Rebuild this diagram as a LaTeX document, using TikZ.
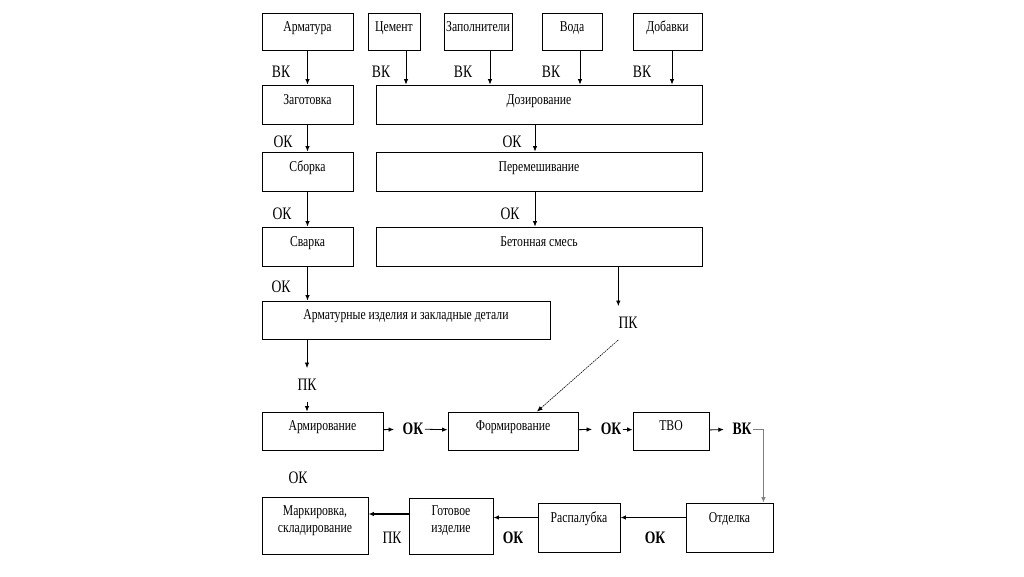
\documentclass[tikz,border=0pt]{standalone}
\usepackage{fontspec}
\setmainfont{Liberation Serif}[FakeStretch=0.78]
\usetikzlibrary{arrows.meta,positioning}

\begin{document}
\begin{tikzpicture}[x=1pt, y=-1pt,
    box/.style = {draw, rectangle, line width=0.9pt, inner sep=0pt,
                  font=\fontsize{15}{17}\selectfont, text height=10pt, text depth=10.6pt},
    low/.style = {text depth=20.6pt},
    two/.style = {align=center, text height=17pt, text depth=3.6pt},
    lbl/.style = {inner sep=0pt, font=\fontsize{17.5}{20}\selectfont},
    blbl/.style = {lbl, inner xsep=1.5pt, font=\fontsize{17.5}{20}\selectfont\bfseries},
    pk/.style = {lbl, inner ysep=11pt},
    arr/.style = {-{Latex[length=5.5pt,width=4.5pt]}, line width=0.8pt},
    tolbl/.style = {arr, shorten >=7pt},
    barr/.style = {arr, line width=1.4pt}]
    \useasboundingbox (0,0) rectangle (1024,576);

    % raw materials
    \node[box, minimum width=91pt, minimum height=37pt] (armat) at (307.5,31.5) {Арматура};
    \node[box, minimum width=52pt, minimum height=37pt] (cem) at (394,31.5) {Цемент};
    \node[box, minimum width=68pt, minimum height=37pt] (zap) at (478,31.5) {Заполнители};
    \node[box, minimum width=60pt, minimum height=37pt] (voda) at (572,31.5) {Вода};
    \node[box, minimum width=69pt, minimum height=37pt] (dob) at (667.5,31.5) {Добавки};

    % reinforcement line
    \node[box, minimum width=91pt, minimum height=39pt] (zag) at (307.5,104.5) {Заготовка};
    \node[box, minimum width=91pt, minimum height=39pt] (sbor) at (307.5,171.5) {Сборка};
    \node[box, minimum width=91pt, minimum height=39pt] (svar) at (307.5,246.5) {Сварка};
    \node[box, minimum width=288pt, minimum height=38pt] (izd) at (406,320) {Арматурные изделия и закладные детали};

    % concrete line
    \node[box, minimum width=326pt, minimum height=39pt] (doz) at (539,104.5) {Дозирование};
    \node[box, minimum width=326pt, minimum height=39pt] (per) at (539,171.5) {Перемешивание};
    \node[box, minimum width=326pt, minimum height=39pt] (bet) at (539,246.5) {Бетонная смесь};

    % moulding
    \node[box, minimum width=121pt, minimum height=38pt] (armir) at (322.5,431) {Армирование};
    \node[box, minimum width=130pt, minimum height=38pt] (form) at (513,431) {Формирование};
    \node[box, minimum width=76pt, minimum height=38pt] (tvo) at (671,431) {ТВО};

    % finishing
    \node[box, two, minimum width=106pt, minimum height=57pt] (mark) at (315,525.5) {Маркировка,\\складирование};
    \node[box, two, minimum width=84pt, minimum height=56pt] (got) at (451,526) {Готовое\\изделие};
    \node[box, low, minimum width=82pt, minimum height=49pt] (ras) at (579,527.5) {Распалубка};
    \node[box, low, minimum width=87pt, minimum height=49pt] (otd) at (729.5,527.5) {Отделка};

    % control labels
    \node[lbl] (vk1) at (281,72) {ВК};
    \node[lbl] (vk2) at (381,72) {ВК};
    \node[lbl] (vk3) at (463,72) {ВК};
    \node[lbl] (vk4) at (551,72) {ВК};
    \node[lbl] (vk5) at (642,72) {ВК};
    \node[lbl] (ok1) at (283,142) {ОК};
    \node[lbl] (ok2) at (282,214) {ОК};
    \node[lbl] (ok3) at (281,287) {ОК};
    \node[lbl] (ok4) at (512,142) {ОК};
    \node[lbl] (ok5) at (510,214) {ОК};
    \node[pk] (pkl) at (307,385) {ПК};
    \node[pk] (pkr) at (628,323) {ПК};
    \node[blbl] (ok6) at (413,429) {ОК};
    \node[blbl] (ok7) at (611,429) {ОК};
    \node[blbl] (vk6) at (742,429) {ВК};
    \node[lbl] (ok8) at (298,478) {ОК};
    \node[lbl] (pk3) at (392,538) {ПК};
    \node[blbl] (ok9) at (513,538) {ОК};
    \node[blbl] (ok10) at (655,538) {ОК};

    % arrows
    \draw[arr] (armat) -- (zag);
    \draw[arr] ([xshift=12pt]cem.south) -- ([xshift=12pt]cem.south |- doz.north);
    \draw[arr] ([xshift=12pt]zap.south) -- ([xshift=12pt]zap.south |- doz.north);
    \draw[arr] ([xshift=8pt]voda.south) -- ([xshift=8pt]voda.south |- doz.north);
    \draw[arr] ([xshift=4.5pt]dob.south) -- ([xshift=4.5pt]dob.south |- doz.north);
    \draw[arr] (zag) -- (sbor);
    \draw[arr] (sbor) -- (svar);
    \draw[arr] (svar) -- (svar.south |- izd.north);
    \draw[arr] ([xshift=-4pt]doz.south) -- ([xshift=-4pt]per.north);
    \draw[arr] ([xshift=-4pt]per.south) -- ([xshift=-4pt]bet.north);
    \draw[arr] (izd.south -| pkl) -- (pkl);
    \draw[arr] (pkl) -- (pkl |- armir.north);
    \draw[arr] (bet.south -| pkr.west) -- (pkr.north -| pkr.west);
    \draw[arr, line width=0.6pt, dash pattern=on 1.5pt off 0.8pt] (pkr.south west) -- ([xshift=24pt]form.north);

    \draw[tolbl] (armir) -- (ok6);
    \draw[arr] (ok6) -- (form);
    \draw[tolbl] (form) -- (ok7);
    \draw[arr] (ok7) -- (tvo);
    \draw[tolbl] (tvo) -- (vk6);
    \draw[arr, draw=gray] (vk6.east) -| ([xshift=-10pt]otd.north east);

    \draw[barr] ([yshift=10pt]otd.west) -- ([yshift=10pt]otd.west -| ras.east);
    \draw[barr] ([yshift=10pt]ras.west) -- ([yshift=10pt]ras.west -| got.east);
    \draw[barr] ([yshift=12pt]got.west) -- ([yshift=12pt]got.west -| mark.east);
\end{tikzpicture}
\end{document}
